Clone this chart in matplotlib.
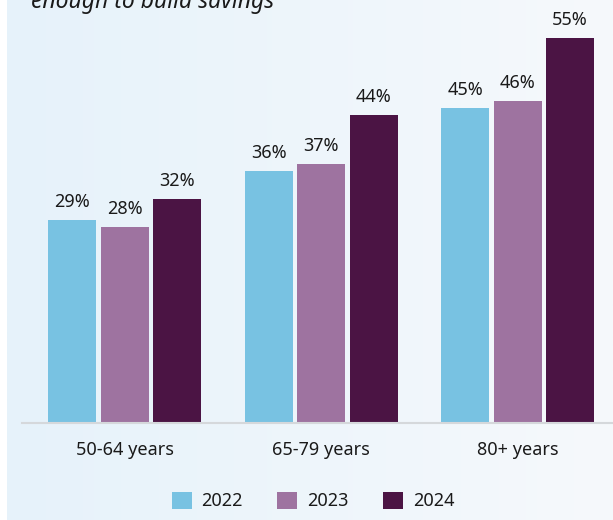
import matplotlib
matplotlib.use("Agg")
import matplotlib.pyplot as plt
import numpy as np
from matplotlib.colors import LinearSegmentedColormap

categories = ["50-64 years", "65-79 years", "80+ years"]
years = ["2022", "2023", "2024"]
values_2022 = [29, 36, 45]
values_2023 = [28, 37, 46]
values_2024 = [32, 44, 55]
series = [values_2022, values_2023, values_2024]
colors = ["#78C2E2", "#9E73A0", "#4B1444"]

plt.rcParams['font.family'] = ['Noto Sans', 'DejaVu Sans']

W, H = 613, 520
fig = plt.figure(figsize=(W / 100, H / 100), dpi=100)
fig.patch.set_facecolor("white")

# background gradient panel
bg = fig.add_axes([7 / W, 0, 1 - 7 / W, 1], zorder=0)
grad = np.linspace(0, 1, 256).reshape(1, -1)
cmap = LinearSegmentedColormap.from_list("bg", ["#E6F2FA", "#F6F9FC"])
bg.imshow(grad, aspect="auto", cmap=cmap, extent=[0, 1, 0, 1])
bg.set_axis_off()

ax = fig.add_axes([22 / W, (H - 423) / H, (613 - 22) / W, (423 - 3) / H], zorder=1)
ax.patch.set_alpha(0)

x = np.arange(len(categories))
step = 52.5 / 196.5
width = 48 / 196.5
for i, (vals, c, lab) in enumerate(zip(series, colors, years)):
    pos = x + (i - 1) * step
    bars = ax.bar(pos, vals, width=width, color=c, label=lab, zorder=2)
    for b, v in zip(bars, vals):
        ax.text(b.get_x() + b.get_width() / 2, v + 1.3, f"{v}%", ha="center",
                va="bottom", fontsize=13, color="#1a1a1a")

ax.set_xlim((22 - 124.5) / 196.5, (613 - 124.5) / 196.5)
ax.set_ylim(0, 60)
for s in ["top", "right", "left"]:
    ax.spines[s].set_visible(False)
ax.spines["bottom"].set_color("#D5D8DB")
ax.spines["bottom"].set_linewidth(1.5)
ax.set_yticks([])
ax.set_xticks(x)
ax.set_xticklabels(categories, fontsize=13, color="#1a1a1a")
ax.tick_params(axis="x", length=0, pad=13)

leg = fig.legend(loc="center", bbox_to_anchor=(313 / W, 1 - 501 / H), ncol=3,
                 frameon=False, fontsize=13, handlelength=1.1, handleheight=1.1,
                 columnspacing=1.9, handletextpad=0.55)
for t in leg.get_texts():
    t.set_color("#1a1a1a")

fig.text(31 / W, 1 - 8 / H, "enough to build savings", fontsize=16.5, style="italic",
         color="#1a1a1a", va="baseline", ha="left")

fig.savefig("out.png", dpi=100)
